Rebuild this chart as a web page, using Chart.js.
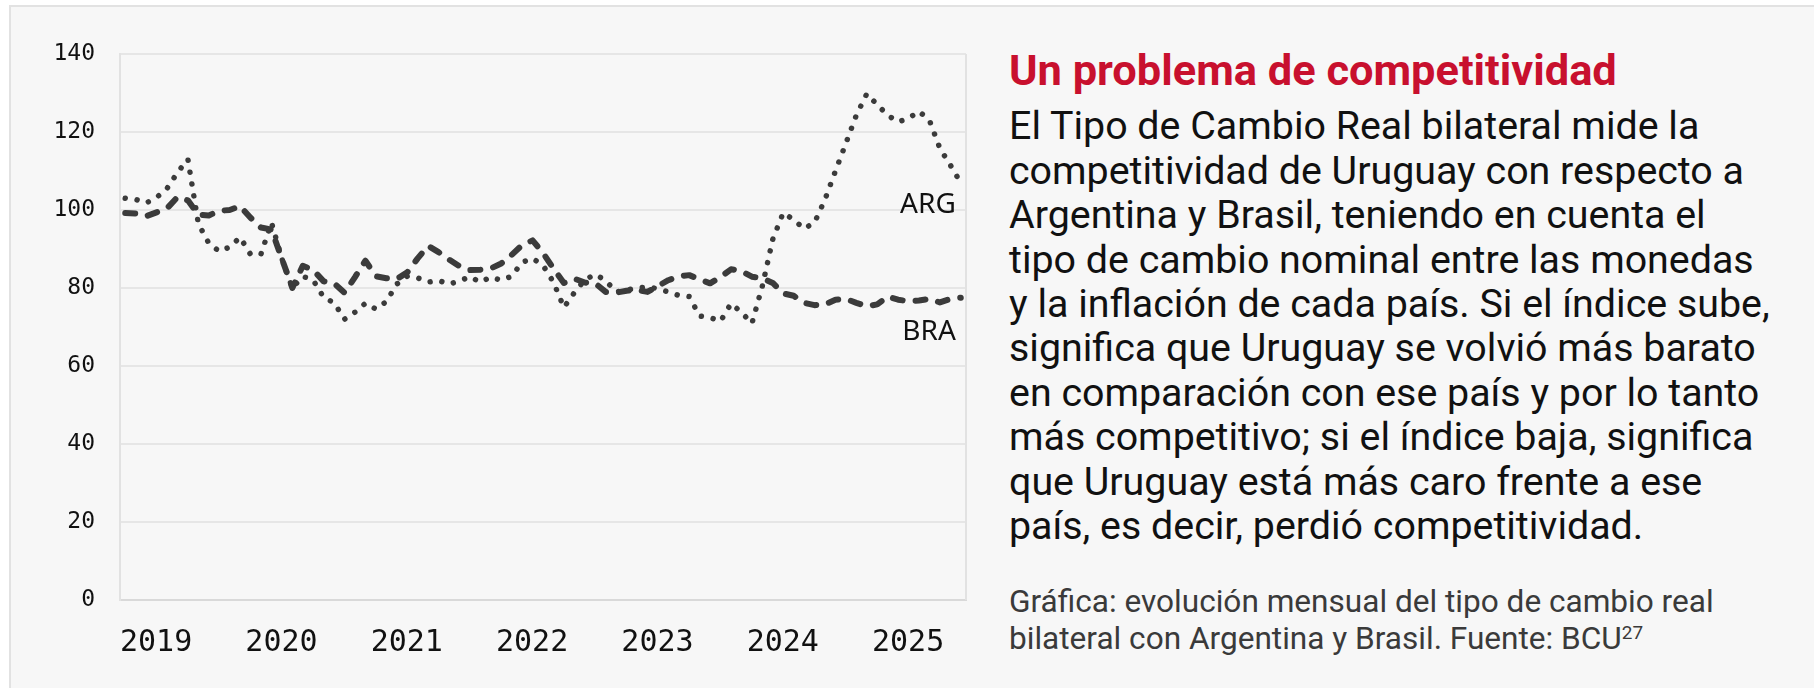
<!DOCTYPE html>
<html lang="es">
<head>
<meta charset="utf-8">
<script src="https://cdn.jsdelivr.net/npm/chart.js"></script>
<style>
  html, body { margin: 0; padding: 0; width: 1814px; height: 688px; overflow: hidden; background: #ffffff; }
  #panel { position: absolute; left: 9px; top: 5px; width: 1805px; height: 683px; background: #f7f7f7;
           border-top: 2px solid #e2e2e2; border-left: 2px solid #e2e2e2; box-sizing: border-box; }
  #chartBox { position: absolute; left: 0; top: 0; width: 1000px; height: 688px; }
  .txt { position: absolute; left: 1009px; white-space: nowrap; font-family: Roboto, "Liberation Sans", sans-serif; }
  #title { color: #c8102e; font-weight: 700; line-height: 48px; }
  #body { color: #111111; font-weight: 400; line-height: 44.4px; }
  #caption { color: #3a3a3a; font-weight: 400; line-height: 36.7px; }
  #caption sup { font-size: 0.6em; vertical-align: 0.55em; line-height: 0; }
</style>
</head>
<body>
<div id="panel"></div>
<div id="chartBox"><canvas id="c"></canvas></div>

<div id="title" class="txt"><span class="l">Un problema de competitividad</span></div>
<div id="body" class="txt">
<span class="l">El Tipo de Cambio Real bilateral mide la</span><br>
<span class="l">competitividad de Uruguay con respecto a</span><br>
<span class="l">Argentina y Brasil, teniendo en cuenta el</span><br>
<span class="l">tipo de cambio nominal entre las monedas</span><br>
<span class="l">y la inflación de cada país. Si el índice sube,</span><br>
<span class="l">significa que Uruguay se volvió más barato</span><br>
<span class="l">en comparación con ese país y por lo tanto</span><br>
<span class="l">más competitivo; si el índice baja, significa</span><br>
<span class="l">que Uruguay está más caro frente a ese</span><br>
<span class="l">país, es decir, perdió competitividad.</span>
</div>
<div id="caption" class="txt">
<span class="l">Gráfica: evolución mensual del tipo de cambio real</span><br>
<span class="l">bilateral con Argentina y Brasil. Fuente: BCU<sup>27</sup></span>
</div>

<script>
// ---- Data (monthly, Jan 2019 – Sep 2025) ----
const yearLabels = ['2019', '2020', '2021', '2022', '2023', '2024', '2025'];
const seriesNames = ['ARG', 'BRA'];

const ARG = [
  103.0, 102.7, 101.8, 103.2, 105.5, 109.6, 113.0, 96.5, 91.5, 89.4, 90.5, 93.0,
  88.6, 88.7, 96.8, 87.5, 80.0, 83.0, 82.0, 77.6, 76.2, 72.0, 73.8, 76.1,
  74.6, 76.5, 81.0, 83.0, 82.6, 81.5, 81.9, 81.0, 81.8, 82.9, 81.5, 82.8,
  82.0, 83.0, 86.6, 87.6, 85.8, 81.5, 75.0, 78.8, 82.1, 83.5, 81.9, 79.0,
  79.5, 80.0, 80.3, 79.8, 79.0, 78.1, 77.8, 72.8, 72.4, 71.5, 76.0, 73.8,
  70.9, 80.5, 92.5, 99.3, 97.5, 95.2, 96.8, 102.7, 110.0, 117.1, 124.3, 129.8,
  127.0, 124.3, 122.6, 123.5, 125.3, 123.0, 115.8, 111.5, 107.0
];

const BRA = [
  99.2, 99.1, 98.4, 99.4, 100.4, 103.3, 102.5, 98.8, 98.6, 99.8, 100.0, 101.0,
  98.0, 95.5, 95.0, 87.5, 80.0, 85.7, 84.6, 81.7, 81.2, 78.8, 82.8, 87.0,
  83.0, 82.5, 82.3, 84.0, 87.6, 90.8, 89.2, 87.3, 85.6, 84.6, 84.7, 85.0,
  86.3, 88.5, 91.0, 92.2, 89.0, 85.0, 81.3, 82.4, 81.4, 81.2, 79.0, 78.8,
  79.3, 79.5, 79.0, 80.5, 82.0, 83.0, 83.3, 82.2, 81.2, 82.8, 84.8, 84.3,
  82.9, 82.5, 81.3, 78.6, 78.0, 76.2, 75.6, 75.8, 77.0, 77.2, 76.2, 75.3,
  75.8, 77.8, 77.0, 76.6, 76.8, 77.2, 76.3, 77.2, 77.5
];

const yTicks = [0, 20, 40, 60, 80, 100, 120, 140];

// points placed mid-month on a month-index axis
const toPoints = arr => arr.map((v, i) => ({ x: i + 0.5, y: v }));

const LINE = '#3b3b3b';

const framePlugin = {
  id: 'frame',
  beforeDatasetsDraw(chart) {
    const { ctx, chartArea: a } = chart;
    ctx.save();
    ctx.strokeStyle = '#e2e2e2';
    ctx.lineWidth = 2;
    ctx.beginPath();
    ctx.moveTo(a.right, a.top);
    ctx.lineTo(a.right, a.bottom);
    ctx.stroke();
    ctx.restore();
  }
};

const seriesLabelPlugin = {
  id: 'seriesLabels',
  afterDatasetsDraw(chart) {
    const { ctx } = chart;
    const xs = chart.scales.x, ys = chart.scales.y;
    const xr = xs.getPixelForValue(ARG.length - 0.5) - 5;
    const at = [99.3, 66.7];
    ctx.save();
    ctx.font = '28px "Noto Sans"';
    ctx.fillStyle = '#111111';
    ctx.textAlign = 'right';
    ctx.textBaseline = 'alphabetic';
    seriesNames.forEach((n, k) => ctx.fillText(n, xr, ys.getPixelForValue(at[k])));
    ctx.restore();
  }
};

new Chart(document.getElementById('c'), {
  type: 'line',
  data: {
    datasets: [
      {
        label: seriesNames[0], data: toPoints(ARG),
        borderColor: LINE, borderWidth: 5.5, borderDash: [0.01, 12],
        borderCapStyle: 'round', borderJoinStyle: 'round',
        pointRadius: 0, tension: 0, fill: false
      },
      {
        label: seriesNames[1], data: toPoints(BRA),
        borderColor: LINE, borderWidth: 6, borderDash: [10, 13],
        borderCapStyle: 'round', borderJoinStyle: 'round',
        pointRadius: 0, tension: 0, fill: false
      }
    ]
  },
  options: {
    responsive: true, maintainAspectRatio: false, animation: false,
    layout: { padding: { left: 0, top: 54, right: 34, bottom: 0 } },
    plugins: { legend: { display: false }, tooltip: { enabled: false } },
    scales: {
      x: {
        type: 'linear', min: 0, max: 81,
        afterBuildTicks: ax => { ax.ticks = yearLabels.map((_, k) => ({ value: k * 12 })); },
        afterFit: s => { s.height = 88; },
        grid: { display: false, drawTicks: false },
        border: { display: true, color: '#d9d9d9', width: 2 },
        ticks: {
          autoSkip: false, maxRotation: 0, align: 'start', padding: 25,
          color: '#111111', font: { family: '"DejaVu Sans Mono"', size: 30 },
          callback: v => yearLabels[Math.round(v / 12)]
        }
      },
      y: {
        min: 0, max: 140,
        afterBuildTicks: ax => { ax.ticks = yTicks.map(v => ({ value: v })); },
        afterFit: s => { s.width = 120; },
        grid: { color: '#e6e6e6', lineWidth: 2, drawTicks: false },
        border: { display: true, color: '#e2e2e2', width: 2 },
        ticks: {
          padding: 25, color: '#111111',
          font: { family: '"DejaVu Sans Mono"', size: 23 }
        }
      }
    }
  },
  plugins: [framePlugin, seriesLabelPlugin]
});

// ---- Text panel layout: fit font sizes to reference line widths, set baselines ----
function fitBlock(id, lineIdx, targetW, firstBaseline, lineH) {
  const el = document.getElementById(id);
  const base = 40;
  el.style.fontSize = base + 'px';
  const w = el.querySelectorAll('.l')[lineIdx].getBoundingClientRect().width;
  const fs = base * targetW / w;
  el.style.fontSize = fs + 'px';
  // Roboto: ascent .928, descent .244
  const off = lineH / 2 + (0.928 - 0.244) / 2 * fs;
  el.style.top = (firstBaseline - off) + 'px';
}
fitBlock('title', 0, 608, 86, 48);
fitBlock('body', 4, 761, 140, 44.4);
fitBlock('caption', 0, 705, 613.3, 36.7);
</script>
</body>
</html>
